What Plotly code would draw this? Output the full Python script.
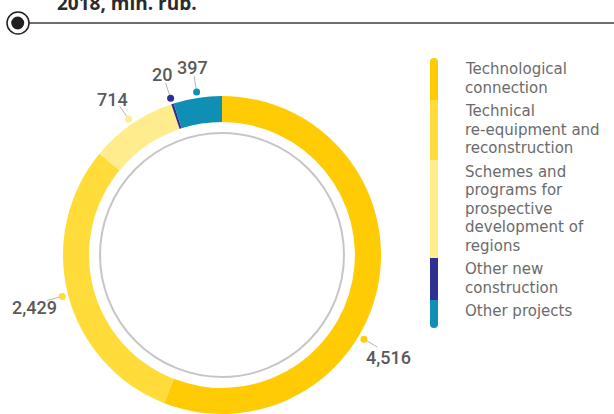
import math
import plotly.graph_objects as go

# ---- data ----
categories = ["Technological connection",
              "Technical re-equipment and reconstruction",
              "Schemes and programs for prospective development of regions",
              "Other new construction",
              "Other projects"]
values = [4516, 2429, 714, 20, 397]
value_labels = ["4,516", "2,429", "714", "20", "397"]
legend_lines = [["Technological", "connection"],
                ["Technical", "re-equipment and", "reconstruction"],
                ["Schemes and", "programs for", "prospective", "development of", "regions"],
                ["Other new", "construction"],
                ["Other projects"]]
title_text = "2018, mln. rub."

# ---- styles / layout ----
colors = ["#FFCB05", "#FFDC3A", "#FFEC8C", "#2E3192", "#0E8FB3"]
label_angle_shift = [20, 0, 0, 0, 0]
W, H = 614, 414
CX, CY, R = 222, 255, 159
HOLE = 0.836
GRAY_R = 122
FONT = "Roboto"
LEG_FONT = "DejaVu Sans"
TITLE_FONT = "Open Sans"

fig = go.Figure()

fig.add_trace(go.Pie(
    labels=categories, values=values, sort=False, direction="clockwise",
    hole=HOLE, marker=dict(colors=colors, line=dict(width=0)),
    textinfo="none", hoverinfo="skip", showlegend=False,
    domain=dict(x=[(CX - R) / W, (CX + R) / W], y=[1 - (CY + R) / H, 1 - (CY - R) / H]),
))

# label angles from the data
total = sum(values)
cum = 0
angles = []
for v, s in zip(values, label_angle_shift):
    mid = (cum + v / 2) / total * 360 + s
    angles.append(math.radians(mid))
    cum += v

def pt(a, r):
    return CX + r * math.sin(a), CY - r * math.cos(a)

lx, ly = [], []
for a in angles:
    x0, y0 = pt(a, 165)
    x1, y1 = pt(a, 181)
    lx += [x0, x1, None]
    ly += [y0, y1, None]
fig.add_trace(go.Scatter(x=lx, y=ly, mode="lines", line=dict(color="#b5b5b5", width=1),
                         hoverinfo="skip", showlegend=False))
dots = [pt(a, 165) for a in angles]
fig.add_trace(go.Scatter(x=[d[0] for d in dots], y=[d[1] for d in dots], mode="markers",
                         marker=dict(color=colors, size=7, line=dict(width=0)),
                         hoverinfo="skip", showlegend=False))

annotations = []
for a, t in zip(angles, value_labels):
    x, y = pt(a, 194)
    annotations.append(dict(x=x, y=y + 4, xref="x", yref="y", text=t, showarrow=False,
                            xanchor="center", yanchor="middle",
                            font=dict(family=FONT, size=18, color="#5a5a5a", weight=500)))

# gray inner circle
shapes = [dict(type="circle", xref="x", yref="y", x0=CX - GRAY_R, x1=CX + GRAY_R,
               y0=CY - GRAY_R, y1=CY + GRAY_R, line=dict(color="#c6c6c6", width=2))]

# legend
BAR_X, BAR_W = 434, 8
TEXT_X = 463
b = 74
group_first = []
line_pos = []
for g in legend_lines:
    group_first.append(b)
    for i, ln in enumerate(g):
        line_pos.append((ln, b + i * 18.5))
    b = b + (len(g) - 1) * 18.5 + 23.5
last_base = line_pos[-1][1]
bounds = [f - 16 for f in group_first] + [last_base + 12]
for i, c in enumerate(colors):
    y0, y1 = bounds[i], bounds[i + 1]
    if i == 0:
        shapes.append(dict(type="circle", xref="x", yref="y", x0=BAR_X - BAR_W / 2, x1=BAR_X + BAR_W / 2,
                           y0=y0, y1=y0 + BAR_W, fillcolor=c, line=dict(width=0)))
        y0 += BAR_W / 2
    if i == len(colors) - 1:
        shapes.append(dict(type="circle", xref="x", yref="y", x0=BAR_X - BAR_W / 2, x1=BAR_X + BAR_W / 2,
                           y0=y1 - BAR_W, y1=y1, fillcolor=c, line=dict(width=0)))
        y1 -= BAR_W / 2
    shapes.append(dict(type="rect", xref="x", yref="y", x0=BAR_X - BAR_W / 2, x1=BAR_X + BAR_W / 2,
                       y0=y0, y1=y1, fillcolor=c, line=dict(width=0)))
for ln, base in line_pos:
    annotations.append(dict(x=TEXT_X, y=base - 5, xref="x", yref="y", text=ln, showarrow=False,
                            xanchor="left", yanchor="middle",
                            font=dict(family=LEG_FONT, size=15, color="#6b6b6b")))

# header rule and bullet
shapes.append(dict(type="line", xref="x", yref="y", x0=29, x1=W, y0=23, y1=23,
                   line=dict(color="#3c3c3c", width=1.5)))
shapes.append(dict(type="circle", xref="x", yref="y", x0=7, x1=29, y0=12, y1=34,
                   fillcolor="white", line=dict(color="#231f20", width=1.5)))
shapes.append(dict(type="circle", xref="x", yref="y", x0=11.2, x1=24.2, y0=16.5, y1=29.5,
                   fillcolor="#231f20", line=dict(width=0)))
annotations.append(dict(x=55, y=2.5, xref="x", yref="y", text=title_text, showarrow=False,
                        xanchor="left", yanchor="middle",
                        font=dict(family=TITLE_FONT, size=19, color="#2b2b2b", weight="bold")))

fig.update_layout(
    width=W, height=H, margin=dict(l=0, r=0, t=0, b=0),
    paper_bgcolor="white", plot_bgcolor="rgba(0,0,0,0)",
    xaxis=dict(range=[0, W], visible=False, fixedrange=True, domain=[0, 1]),
    yaxis=dict(range=[H, 0], visible=False, fixedrange=True, domain=[0, 1]),
    shapes=shapes, annotations=annotations, hovermode=False, showlegend=False,
)
fig.write_html("out.html", config={"displayModeBar": False},
               post_script="document.body.style.margin='0';document.body.style.overflow='hidden';")
